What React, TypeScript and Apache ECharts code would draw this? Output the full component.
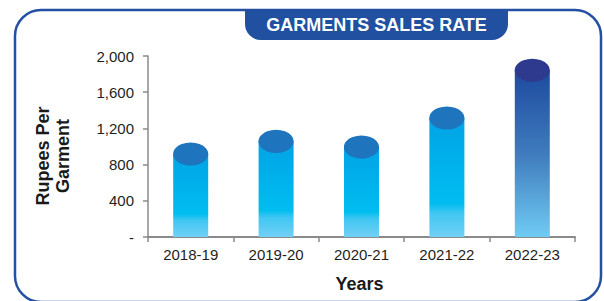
import React, { useEffect, useRef } from "react";
import * as echarts from "echarts";

const categories = ["2018-19", "2019-20", "2020-21", "2021-22", "2022-23"];
const values = [917, 1057, 994, 1315, 1842];
const yTicks = { min: 0, max: 2000, interval: 400 };
const title = "GARMENTS SALES RATE";
const yTitle = ["Rupees Per", "Garment"];
const xTitle = "Years";

const FONT = "'Liberation Sans', Arial, Helvetica, sans-serif";

export default function App() {
  const ref = useRef<HTMLDivElement>(null);
  useEffect(() => {
    if (!ref.current) return;
    const chart = echarts.init(ref.current, null, { renderer: "svg" });
    const cyanGrad = new echarts.graphic.LinearGradient(0, 0, 0, 1, [
      { offset: 0, color: "#00a3e6" },
      { offset: 0.72, color: "#00bdf0" },
      { offset: 0.8, color: "#40c7f2" },
      { offset: 1, color: "#72d0f5" },
    ]);
    const blueGrad = new echarts.graphic.LinearGradient(0, 0, 0, 1, [
      { offset: 0, color: "#1d4a9f" },
      { offset: 0.5, color: "#3f7bbd" },
      { offset: 1, color: "#70cbf3" },
    ]);
    const last = values.length - 1;
    chart.setOption({
      animation: false,
      backgroundColor: "#ffffff",
      grid: { left: 148, right: 29, top: 56, bottom: 64 },
      xAxis: {
        type: "category",
        data: categories,
        axisLine: { lineStyle: { color: "#8a8a8a", width: 2 } },
        axisTick: { show: true, interval: 0, length: 5, lineStyle: { color: "#8a8a8a", width: 1.5 } },
        axisLabel: { color: "#231f20", fontSize: 15, fontFamily: FONT, margin: 10 },
      },
      yAxis: {
        type: "value",
        min: yTicks.min,
        max: yTicks.max,
        interval: yTicks.interval,
        splitLine: { show: false },
        axisLine: { show: true, lineStyle: { color: "#8a8a8a", width: 1.5 } },
        axisTick: { show: true, length: 5, lineStyle: { color: "#8a8a8a", width: 1.5 } },
        axisLabel: {
          color: "#231f20",
          fontSize: 15,
          fontFamily: FONT,
          margin: 14,
          formatter: (v: number) => (v === 0 ? "-" : v.toLocaleString("en-US")),
        },
      },
      series: [
        {
          type: "bar",
          barWidth: 35,
          barGap: "-100%",
          data: values.map((v, i) => ({
            value: v,
            itemStyle: { color: i === last ? blueGrad : cyanGrad },
          })),
          z: 2,
        },
        {
          type: "pictorialBar",
          symbol: "circle",
          symbolSize: [35, 23],
          symbolPosition: "end",
          symbolOffset: [0, "-50%"],
          barWidth: 35,
          barGap: "-100%",
          data: values.map((v, i) => ({
            value: v,
            itemStyle: { color: i === last ? "#2e3a8e" : "#1e75bd" },
          })),
          z: 3,
        },
      ],
      graphic: [
        {
          type: "rect",
          shape: { x: 15, y: 10, width: 586, height: 292, r: 26 },
          style: { fill: "none", stroke: "#2350a3", lineWidth: 2.5 },
          z: 1,
        },
        {
          type: "rect",
          shape: { x: 245, y: 9, width: 263, height: 31, r: [0, 0, 16, 16] },
          style: { fill: "#2150a0" },
          z: 2,
        },
        {
          type: "text",
          x: 376.5,
          y: 24.5,
          style: {
            text: title,
            fill: "#ffffff",
            font: `bold 18px ${FONT}`,
            align: "center",
            verticalAlign: "middle",
          },
          z: 3,
        },
        {
          type: "text",
          x: 53,
          y: 156,
          rotation: Math.PI / 2,
          style: {
            text: yTitle.join("\n"),
            fill: "#1a1a1a",
            font: `bold 18px ${FONT}`,
            lineHeight: 20,
            align: "center",
            verticalAlign: "middle",
          },
          z: 3,
        },
        {
          type: "text",
          x: 359.5,
          y: 284,
          style: {
            text: xTitle,
            fill: "#1a1a1a",
            font: `bold 18px ${FONT}`,
            align: "center",
            verticalAlign: "middle",
          },
          z: 3,
        },
      ],
    });
    return () => chart.dispose();
  }, []);
  return (
    <div
      ref={ref}
      style={{ position: "fixed", left: 0, top: 0, width: 604, height: 301, background: "#fff" }}
    />
  );
}
